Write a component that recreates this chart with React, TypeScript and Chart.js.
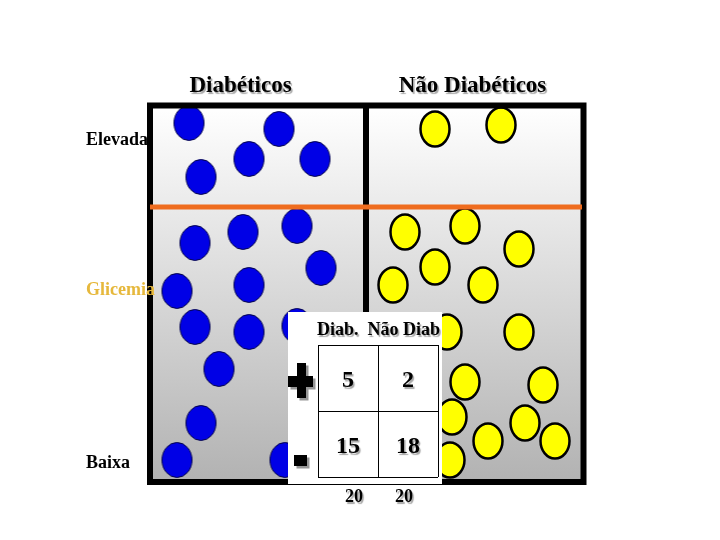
import React, { useEffect, useRef } from "react";
import { Chart, registerables } from "chart.js";

Chart.register(...registerables);

// ---- data ----
const grupos = ["Diabéticos", "Não Diabéticos"];
const niveisGlicemia = ["Elevada", "Glicemia", "Baixa"];

// [x, y] positions of each person (x: group spread, y: glycemia, top = high)
const diabElevada = [[189, 123], [279, 129], [249, 159], [315, 159], [201, 177]];
const diabBaixa = [
  [195, 243], [243, 232], [297, 226], [321, 268], [177, 291], [249, 285],
  [195, 327], [249, 332], [297, 326], [219, 369], [201, 423], [177, 460], [285, 460],
];
const naoDiabElevada = [[435, 129], [501, 125]];
const naoDiabBaixa = [
  [405, 232], [465, 226], [519, 249], [435, 267], [393, 285], [483, 285],
  [447, 332], [519, 332], [465, 382], [543, 385], [452, 417], [525, 423],
  [488, 441], [555, 441], [450, 460],
];
const limiarGlicemia = 207;

const tabelaCabecalho = "Diab.  Não Diab";
const tabelaLinhas = ["+", "-"];
const tabelaValores = [[5, 2], [15, 18]];
const tabelaTotais = [20, 20];

// ---- layout (in scale units) ----
const BOX = { x0: 150, x1: 583.5, y0: 105.5, y1: 482, lw: 6 };
const DIVIDER_X = 366;
const TABLE = { x0: 288, x1: 442, y0: 312, y1: 484 };
const GRID = { xs: [318, 378, 438], ys: [345, 411, 477] };

const SERIF = '"Liberation Serif", "Times New Roman", serif';

function ellipseImg(fill: string, stroke: string, lw: number, rx: number, ry: number) {
  const c = document.createElement("canvas");
  c.width = Math.ceil(2 * rx + lw + 2);
  c.height = Math.ceil(2 * ry + lw + 2);
  const g = c.getContext("2d")!;
  g.beginPath();
  g.ellipse(c.width / 2, c.height / 2, rx, ry, 0, 0, Math.PI * 2);
  g.fillStyle = fill;
  g.fill();
  g.lineWidth = lw;
  g.strokeStyle = stroke;
  g.stroke();
  return c;
}

const toPts = (arr: number[][]) => arr.map(([x, y]) => ({ x, y }));

export default function App() {
  const ref = useRef<HTMLCanvasElement>(null);

  useEffect(() => {
    if (!ref.current) return;
    const blue = ellipseImg("#0000e6", "#00004a", 1, 15, 17.5);
    const yellow = ellipseImg("#ffff00", "#000000", 2.5, 14.5, 17.5);

    const drawText = (
      ctx: CanvasRenderingContext2D, s: string, x: number, y: number,
      size: number, color: string, align: CanvasTextAlign, shadow = true
    ) => {
      ctx.save();
      ctx.font = `bold ${size}px ${SERIF}`;
      ctx.textAlign = align;
      ctx.textBaseline = "alphabetic";
      if (shadow) {
        ctx.shadowColor = "rgba(0,0,0,0.35)";
        ctx.shadowOffsetX = 1.5;
        ctx.shadowOffsetY = 1.5;
        ctx.shadowBlur = 1;
      }
      ctx.fillStyle = color;
      ctx.fillText(s, x, y);
      ctx.restore();
    };

    const scenePlugin = {
      id: "scene",
      beforeDatasetsDraw(chart: any) {
        const { ctx } = chart;
        const X = (v: number) => chart.scales.x.getPixelForValue(v);
        const Y = (v: number) => chart.scales.y.getPixelForValue(v);
        const grad = ctx.createLinearGradient(0, Y(BOX.y0), 0, Y(BOX.y1));
        grad.addColorStop(0, "#ffffff");
        grad.addColorStop(1, "#b2b2b2");
        ctx.save();
        ctx.fillStyle = grad;
        ctx.fillRect(X(BOX.x0), Y(BOX.y0), X(BOX.x1) - X(BOX.x0), Y(BOX.y1) - Y(BOX.y0));
        ctx.restore();
      },
      afterDatasetsDraw(chart: any) {
        const { ctx } = chart;
        const X = (v: number) => chart.scales.x.getPixelForValue(v);
        const Y = (v: number) => chart.scales.y.getPixelForValue(v);
        ctx.save();
        // frame
        ctx.strokeStyle = "#000";
        ctx.lineWidth = BOX.lw;
        ctx.strokeRect(X(BOX.x0), Y(BOX.y0), X(BOX.x1) - X(BOX.x0), Y(BOX.y1) - Y(BOX.y0));
        // divider
        ctx.beginPath();
        ctx.moveTo(X(DIVIDER_X), Y(BOX.y0));
        ctx.lineTo(X(DIVIDER_X), Y(BOX.y1));
        ctx.stroke();
        // threshold line
        ctx.strokeStyle = "#ef6c1e";
        ctx.lineWidth = 5;
        ctx.beginPath();
        ctx.moveTo(X(BOX.x0), Y(limiarGlicemia));
        ctx.lineTo(X(BOX.x1 - 1.5), Y(limiarGlicemia));
        ctx.stroke();
        ctx.restore();

        // group titles
        drawText(ctx, grupos[0], X(240.5), Y(92), 23, "#000", "center");
        drawText(ctx, grupos[1], X(472.5), Y(92), 23, "#000", "center");
        // glycemia labels
        drawText(ctx, niveisGlicemia[0], X(86), Y(145), 18, "#000", "left", false);
        drawText(ctx, niveisGlicemia[1], X(86), Y(295), 18, "#e6b83c", "left", false);
        drawText(ctx, niveisGlicemia[2], X(86), Y(468), 18, "#000", "left", false);

        // table
        ctx.save();
        ctx.fillStyle = "#fff";
        ctx.fillRect(X(TABLE.x0), Y(TABLE.y0), X(TABLE.x1) - X(TABLE.x0), Y(TABLE.y1) - Y(TABLE.y0));
        ctx.strokeStyle = "#000";
        ctx.lineWidth = 1;
        GRID.xs.forEach((gx) => {
          ctx.beginPath();
          ctx.moveTo(Math.round(X(gx)) + 0.5, Y(GRID.ys[0]));
          ctx.lineTo(Math.round(X(gx)) + 0.5, Y(GRID.ys[2]));
          ctx.stroke();
        });
        GRID.ys.forEach((gy) => {
          ctx.beginPath();
          ctx.moveTo(X(GRID.xs[0]), Math.round(Y(gy)) + 0.5);
          ctx.lineTo(X(GRID.xs[2]), Math.round(Y(gy)) + 0.5);
          ctx.stroke();
        });
        ctx.restore();

        drawText(ctx, tabelaCabecalho, X(317), Y(335), 18, "#000", "left");
        tabelaValores.forEach((row, r) => {
          row.forEach((v, c) => {
            const cx = (GRID.xs[c] + GRID.xs[c + 1]) / 2;
            const cy = (GRID.ys[r] + GRID.ys[r + 1]) / 2;
            drawText(ctx, String(v), X(cx), Y(cy + 9), 24, "#000", "center");
          });
        });
        const totalX = [354, 404];
        tabelaTotais.forEach((t, c) => drawText(ctx, String(t), X(totalX[c]), Y(502), 18, "#000", "center"));

        // row signs (+ / -)
        const rect = (x0: number, y0: number, x1: number, y1: number) =>
          ctx.fillRect(X(x0), Y(y0), X(x1) - X(x0), Y(y1) - Y(y0));
        const signs: Record<string, number[][]> = {
          "+": [[288, 376, 313, 387], [297, 363, 306, 398]],
          "-": [[294, 455, 307, 466]],
        };
        ctx.save();
        tabelaLinhas.forEach((s) => {
          ctx.fillStyle = "#959595";
          signs[s].forEach(([a, b, c2, d]) => rect(a + 2.5, b + 2.5, c2 + 2.5, d + 2.5));
        });
        tabelaLinhas.forEach((s) => {
          ctx.fillStyle = "#000";
          signs[s].forEach(([a, b, c2, d]) => rect(a, b, c2, d));
        });
        ctx.restore();
      },
    };

    const chart = new Chart(ref.current, {
      type: "scatter",
      data: {
        datasets: [
          {
            label: grupos[0],
            data: toPts(diabElevada.concat(diabBaixa)),
            pointStyle: blue as any,
            pointRadius: 16,
          },
          {
            label: grupos[1],
            data: toPts(naoDiabElevada.concat(naoDiabBaixa)),
            pointStyle: yellow as any,
            pointRadius: 16,
          },
        ],
      },
      options: {
        responsive: false,
        animation: false,
        events: [],
        layout: { padding: 0, autoPadding: false },
        plugins: { legend: { display: false }, tooltip: { enabled: false } },
        scales: {
          x: { type: "linear", min: 0, max: 720, display: false },
          y: { type: "linear", min: 0, max: 540, reverse: true, display: false },
        },
      },
      plugins: [scenePlugin],
    });
    return () => chart.destroy();
  }, []);

  return (
    <div style={{ position: "fixed", left: 0, top: 0, width: 720, height: 540, background: "#fff" }}>
      <canvas ref={ref} width={720} height={540} />
    </div>
  );
}
